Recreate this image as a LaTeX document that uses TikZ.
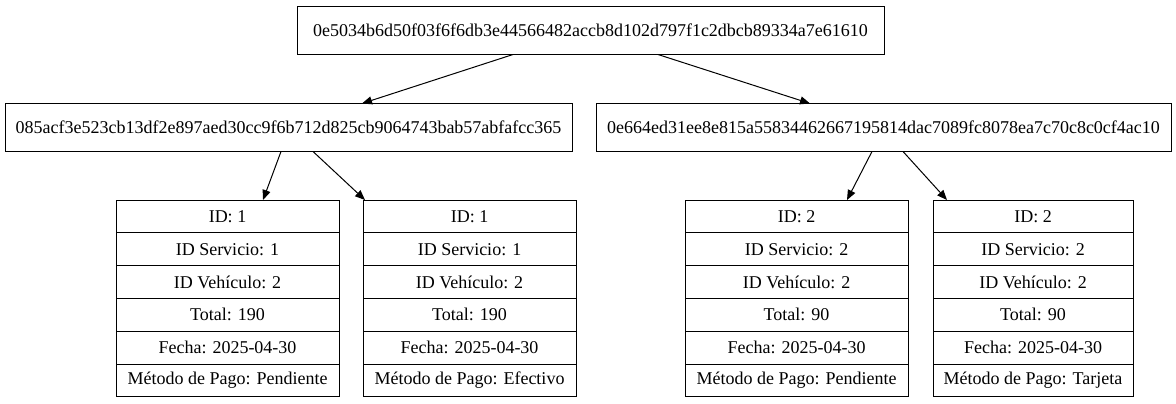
\documentclass[tikz,border=0pt]{standalone}
\usepackage{fontspec}
\setmainfont{Liberation Serif}
\usetikzlibrary{positioning,calc,arrows.meta}

\tikzset{
  caja/.style={draw,rectangle,line width=0.75pt,inner sep=0pt,outer sep=0pt,minimum height=36pt,font=\fontsize{13.5}{16}\selectfont},
  fila/.style={draw,rectangle,line width=0.75pt,inner sep=0pt,outer sep=0pt,minimum height=24.6pt,font=\fontsize{13.5}{16}\selectfont},
  flecha/.style={line width=0.75pt,-{Triangle[length=7.5pt,width=6pt]}}
}

\begin{document}
\begin{tikzpicture}[x=0.75pt,y=-0.75pt,node distance=0pt]
			\useasboundingbox (0,0) rectangle (1176,403);
			% arbol de hashes
			\node[caja,minimum width=440.25pt] (raiz) at (590.5,30.5) {0e5034b6d50f03f6f6db3e44566482accb8d102d797f1c2dbcb89334a7e61610};
			\node[caja,minimum width=425.25pt] (hizq) at (288.5,127.5) {085acf3e523cb13df2e897aed30cc9f6b712d825cb9064743bab57abfafcc365};
			\node[caja,minimum width=431.25pt] (hder) at (883.5,127.5) {0e664ed31ee8e815a55834462667195814dac7089fc8078ea7c70c8c0cf4ac10};
			% registro 1
			\node[fila,minimum width=167.25pt] (r1a) at (227.5,216.4) {ID: 1};
			\node[fila,minimum width=167.25pt,below=of r1a] (r1b) {ID Servicio: 1};
			\node[fila,minimum width=167.25pt,below=of r1b] (r1c) {ID Vehículo: 2};
			\node[fila,minimum width=167.25pt,below=of r1c] (r1d) {Total: 190};
			\node[fila,minimum width=167.25pt,below=of r1d] (r1e) {Fecha: 2025-04-30};
			\node[fila,minimum width=167.25pt,below=of r1e] (r1f) {Método de Pago: Pendiente};
			% registro 2
			\node[fila,minimum width=159.75pt] (r2a) at (469.5,216.4) {ID: 1};
			\node[fila,minimum width=159.75pt,below=of r2a] (r2b) {ID Servicio: 1};
			\node[fila,minimum width=159.75pt,below=of r2b] (r2c) {ID Vehículo: 2};
			\node[fila,minimum width=159.75pt,below=of r2c] (r2d) {Total: 190};
			\node[fila,minimum width=159.75pt,below=of r2d] (r2e) {Fecha: 2025-04-30};
			\node[fila,minimum width=159.75pt,below=of r2e] (r2f) {Método de Pago: Efectivo};
			% registro 3
			\node[fila,minimum width=167.25pt] (r3a) at (796.5,216.4) {ID: 2};
			\node[fila,minimum width=167.25pt,below=of r3a] (r3b) {ID Servicio: 2};
			\node[fila,minimum width=167.25pt,below=of r3b] (r3c) {ID Vehículo: 2};
			\node[fila,minimum width=167.25pt,below=of r3c] (r3d) {Total: 90};
			\node[fila,minimum width=167.25pt,below=of r3d] (r3e) {Fecha: 2025-04-30};
			\node[fila,minimum width=167.25pt,below=of r3e] (r3f) {Método de Pago: Pendiente};
			% registro 4
			\node[fila,minimum width=150pt] (r4a) at (1033,216.4) {ID: 2};
			\node[fila,minimum width=150pt,below=of r4a] (r4b) {ID Servicio: 2};
			\node[fila,minimum width=150pt,below=of r4b] (r4c) {ID Vehículo: 2};
			\node[fila,minimum width=150pt,below=of r4c] (r4d) {Total: 90};
			\node[fila,minimum width=150pt,below=of r4d] (r4e) {Fecha: 2025-04-30};
			\node[fila,minimum width=150pt,below=of r4e] (r4f) {Método de Pago: Tarjeta};
			% aristas
			\draw[flecha] ($(raiz.south)+(-77.5,0)$) -- ($(hizq.north)+(73.5,0)$);
			\draw[flecha] ($(raiz.south)+(67.5,0)$) -- ($(hder.north)+(-73.5,0)$);
			\draw[flecha] ($(hizq.south)+(-7.5,0)$) -- ($(r1a.north)+(35.5,0)$);
			\draw[flecha] ($(hizq.south)+(24.5,0)$) -- ($(r2a.north)+(-104.5,0)$);
			\draw[flecha] ($(hder.south)+(-11.5,0)$) -- ($(r3a.north)+(50.5,0)$);
			\draw[flecha] ($(hder.south)+(19.5,0)$) -- ($(r4a.north)+(-86,0)$);
		\end{tikzpicture}
\end{document}
